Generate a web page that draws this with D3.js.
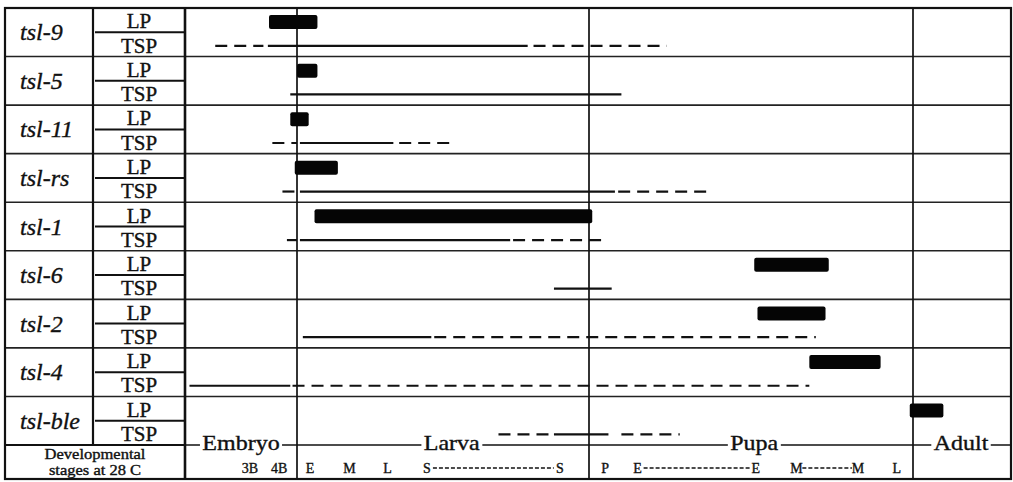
<!DOCTYPE html>
<html>
<head>
<meta charset="UTF-8" />
<script src="https://cdn.jsdelivr.net/npm/d3@7"></script>
<style>
  body { margin: 0; background: #fff; }
  text { font-family: "Liberation Serif", "Times New Roman", serif; fill: #111; stroke: #111; stroke-width: 0.35px; }
</style>
</head>
<body>
<div id="chart"></div>
<script>
// genes (rows) and lethal phase bars, in stage units (0 = egg, 1 = hatch, 2 = pupariation, 3 = eclosion)
const genes = ["tsl-9", "tsl-5", "tsl-11", "tsl-rs", "tsl-1", "tsl-6", "tsl-2", "tsl-4", "tsl-ble"];
const lpStart = [0.75, 1.00, 0.94, 0.98, 1.06, 2.51, 2.52, 2.68, 2.99];
const lpEnd   = [1.07, 1.07, 1.04, 1.14, 2.01, 2.74, 2.73, 2.90, 3.31];

// temperature sensitive periods: [from, to, style]  s = solid, d = dashed
const tspSegments = [
  [[0.27, 0.70, "d"], [0.74, 1.79, "s"], [1.81, 2.24, "d"]],
  [[0.94, 2.10, "s"]],
  [[0.78, 1.00, "d"], [1.01, 1.33, "s"], [1.35, 1.53, "d"]],
  [[0.87, 1.00, "d"], [1.01, 2.08, "s"], [2.09, 2.37, "d"]],
  [[0.91, 1.00, "d"], [1.01, 1.73, "s"], [1.74, 2.04, "d"]],
  [[1.88, 2.07, "s"]],
  [[1.02, 1.46, "s"], [1.47, 2.70, "d"]],
  [[0.04, 0.94, "s"], [0.96, 2.68, "d"]],
  [[1.69, 1.87, "d"], [1.88, 2.06, "s"], [2.10, 2.28, "d"]]
];

const stages = ["Embryo", "Larva", "Pupa", "Adult"];
const stageEdges = [0, 1, 2, 3, 4];
const stageCenters = [0.5, 1.53, 2.51, 3.49];

const subLabels = ["3B", "4B", "E", "M", "L", "S", "S", "P", "E", "E", "M", "M", "L"];
const subAt     = [0.58, 0.84, 1.045, 1.18, 1.31, 1.445, 1.90, 2.05, 2.15, 2.515, 2.64, 2.83, 2.95];
const leaders = [[5, 6], [8, 9], [10, 11]]; // dotted runs between sub labels

const W = 1013, H = 482;
const frameLeft = 5, col1 = 93, col2 = 185, frameRight = 1011, frameTop = 8, rowsBottom = 445, frameBottom = 479;

var svg = d3.select("#chart").append("svg").attr("width", W).attr("height", H);

var x = d3.scaleLinear().domain(stageEdges).range([col2, 297, 589, 913, frameRight]);
var y = d3.scaleBand().domain(genes).range([frameTop, rowsBottom]);
var bw = y.bandwidth();

var ink = "#111";

// row lines
svg.selectAll(".rowline")
  .data(genes.slice(1))
  .enter().append("line")
  .attr("x1", frameLeft).attr("x2", frameRight)
  .attr("y1", d => y(d)).attr("y2", d => y(d))
  .attr("stroke", "#222").attr("stroke-width", 1.6);

// LP / TSP divider in second column
svg.selectAll(".divider")
  .data(genes)
  .enter().append("line")
  .attr("x1", col1 + 2).attr("x2", col2)
  .attr("y1", d => y(d) + bw / 2).attr("y2", d => y(d) + bw / 2)
  .attr("stroke", ink).attr("stroke-width", 2);

// column borders
svg.append("line").attr("x1", col1).attr("x2", col1).attr("y1", frameTop).attr("y2", rowsBottom)
  .attr("stroke", ink).attr("stroke-width", 2.2);
svg.append("line").attr("x1", col2).attr("x2", col2).attr("y1", frameTop).attr("y2", frameBottom)
  .attr("stroke", ink).attr("stroke-width", 2.6);

// stage boundaries
svg.selectAll(".stageline")
  .data(stageEdges.slice(1, 4))
  .enter().append("line")
  .attr("x1", d => x(d)).attr("x2", d => x(d))
  .attr("y1", frameTop).attr("y2", frameBottom)
  .attr("stroke", ink).attr("stroke-width", 1.7);

// bottom line across label column
svg.append("line").attr("x1", frameLeft).attr("x2", col2).attr("y1", rowsBottom).attr("y2", rowsBottom)
  .attr("stroke", ink).attr("stroke-width", 2);

// outer frame
svg.append("rect").attr("x", frameLeft).attr("y", frameTop)
  .attr("width", frameRight - frameLeft).attr("height", frameBottom - frameTop)
  .attr("fill", "none").attr("stroke", ink).attr("stroke-width", 2.2);

// LP bars
svg.selectAll(".lp")
  .data(genes)
  .enter().append("rect")
  .attr("x", (d, i) => x(lpStart[i]))
  .attr("width", (d, i) => x(lpEnd[i]) - x(lpStart[i]))
  .attr("y", d => y(d) + bw * 0.29 - 7)
  .attr("height", 14)
  .attr("rx", 2)
  .attr("fill", "#050505");

// TSP lines
genes.forEach(function (g, i) {
  svg.selectAll(".tsp" + i)
    .data(tspSegments[i])
    .enter().append("line")
    .attr("x1", d => x(d[0])).attr("x2", d => x(d[1]))
    .attr("y1", y(g) + bw * 0.78).attr("y2", y(g) + bw * 0.78)
    .attr("stroke", ink).attr("stroke-width", 2.2)
    .attr("stroke-dasharray", d => d[2] === "d" ? "12,7" : null);
});

// gene names
svg.selectAll(".gene")
  .data(genes)
  .enter().append("text")
  .attr("x", 20).attr("y", d => y(d) + bw / 2 + 8)
  .attr("font-size", 24).attr("font-style", "italic")
  .text(d => d);

// LP / TSP labels
genes.forEach(function (g) {
  svg.append("text").attr("x", (col1 + col2) / 2).attr("y", y(g) + bw / 2 - 4)
    .attr("text-anchor", "middle").attr("font-size", 21).text("LP");
  svg.append("text").attr("x", (col1 + col2) / 2).attr("y", y(g) + bw - 4)
    .attr("text-anchor", "middle").attr("font-size", 21).text("TSP");
});

// developmental stages label
svg.selectAll(".devlabel")
  .data(["Developmental", "stages at 28 C"])
  .enter().append("text")
  .attr("transform", (d, i) => "translate(" + (frameLeft + col2) / 2 + "," + (459 + i * 16) + ") scale(1.18,1)")
  .attr("text-anchor", "middle").attr("font-size", 14)
  .text(d => d);

// stage axis line with names over it
svg.append("line").attr("x1", col2).attr("x2", frameRight).attr("y1", rowsBottom).attr("y2", rowsBottom)
  .attr("stroke", ink).attr("stroke-width", 1.7);

var stageG = svg.selectAll(".stage")
  .data(stages)
  .enter().append("g")
  .attr("transform", (d, i) => "translate(" + x(stageCenters[i]) + ",450) scale(1.2,1)");
stageG.append("rect").attr("fill", "#fff");
stageG.append("text").attr("text-anchor", "middle").attr("font-size", 20).text(d => d);
stageG.each(function () {
  var b = d3.select(this).select("text").node().getBBox();
  d3.select(this).select("rect")
    .attr("x", b.x - 2).attr("y", b.y + 3).attr("width", b.width + 4).attr("height", b.height - 6);
});

// sub-stage labels
svg.selectAll(".sub")
  .data(subLabels)
  .enter().append("text")
  .attr("x", (d, i) => x(subAt[i])).attr("y", 473)
  .attr("text-anchor", "middle").attr("font-size", 14)
  .text(d => d);

svg.selectAll(".leader")
  .data(leaders)
  .enter().append("line")
  .attr("x1", d => x(subAt[d[0]]) + 6).attr("x2", d => x(subAt[d[1]]) - 6)
  .attr("y1", 468).attr("y2", 468)
  .attr("stroke", ink).attr("stroke-width", 1.3)
  .attr("stroke-dasharray", "4,2");
</script>
</body>
</html>
